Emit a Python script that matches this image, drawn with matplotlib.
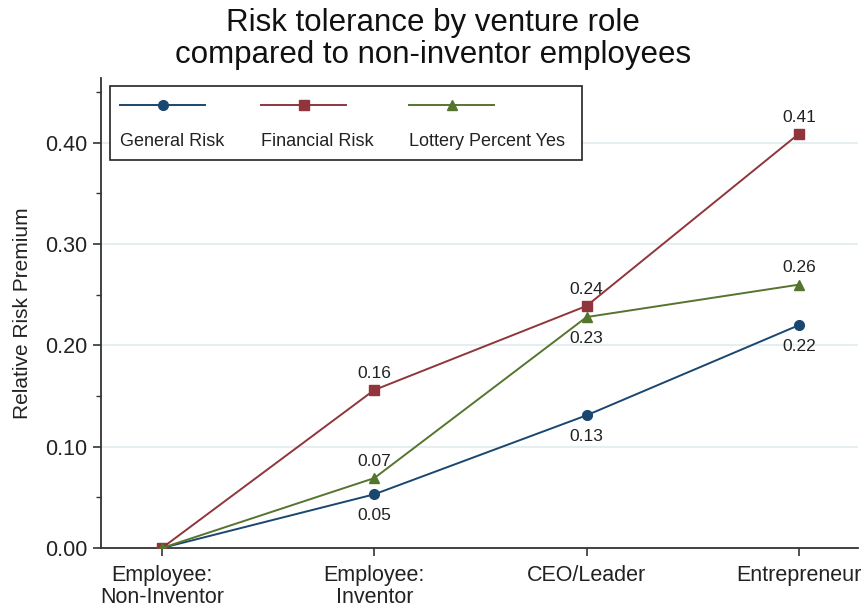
import matplotlib
matplotlib.use("Agg")
import matplotlib.pyplot as plt
from matplotlib.lines import Line2D
from matplotlib.patches import Rectangle
import numpy as np

plt.rcParams['font.family'] = ['Liberation Sans', 'DejaVu Sans']

categories = ["Employee:\nNon-Inventor", "Employee:\nInventor", "CEO/Leader", "Entrepreneur"]
general_risk = [0.0, 0.053, 0.131, 0.220]
financial_risk = [0.0, 0.156, 0.239, 0.409]
lottery_yes = [0.0, 0.069, 0.228, 0.260]
general_labels = ["", "0.05", "0.13", "0.22"]
financial_labels = ["", "0.16", "0.24", "0.41"]
lottery_labels = ["", "0.07", "0.23", "0.26"]
lottery_label_pos = ["", "above", "below", "above"]
yticks = [0.0, 0.1, 0.2, 0.3, 0.4]
ytick_labels = ["0.00", "0.10", "0.20", "0.30", "0.40"]
series_names = ["General Risk", "Financial Risk", "Lottery Percent Yes"]

c_blue = "#1a476f"
c_red = "#90353b"
c_green = "#55752f"

fig = plt.figure(figsize=(8.66, 6.08), dpi=100)
ax = fig.add_axes([101/866, 1-548/608, (858-101)/866, (548-78)/608])

x = np.arange(len(categories))
ax.plot(x, general_risk, color=c_blue, marker="o", ms=7, lw=1.4, zorder=3)
ax.plot(x, financial_risk, color=c_red, marker="s", ms=7, lw=1.4, zorder=3)
ax.plot(x, lottery_yes, color=c_green, marker="^", ms=7.5, lw=1.4, zorder=3)

lab_fs = 12.5
off_up = 12
off_dn = 15.5
for i in range(len(x)):
    if general_labels[i]:
        ax.annotate(general_labels[i], (x[i], general_risk[i]), xytext=(0, -off_dn),
                    textcoords="offset points", ha="center", va="center", fontsize=lab_fs, color="#222222")
    if financial_labels[i]:
        ax.annotate(financial_labels[i], (x[i], financial_risk[i]), xytext=(0, off_up),
                    textcoords="offset points", ha="center", va="center", fontsize=lab_fs, color="#222222")
    if lottery_labels[i]:
        dy = off_up if lottery_label_pos[i] == "above" else -off_dn
        ax.annotate(lottery_labels[i], (x[i], lottery_yes[i]), xytext=(0, dy),
                    textcoords="offset points", ha="center", va="center", fontsize=lab_fs, color="#222222")

ax.set_xlim(-0.287, 3.278)
ax.set_ylim(0, 0.464)
ax.set_xticks(x)
ax.set_xticklabels(categories, fontsize=15.5, color="#222222", linespacing=1.1)
ax.set_yticks(yticks)
ax.set_yticklabels(ytick_labels, fontsize=15.5, color="#222222")
ax.set_yticks([0.05, 0.15, 0.25, 0.35, 0.45], minor=True)
ax.tick_params(axis="both", which="major", length=6, width=1.2, color="#333333", pad=4)
ax.tick_params(axis="x", which="major", pad=6)
ax.tick_params(axis="y", which="minor", length=3.5, width=1.0, color="#333333")
ax.set_ylabel("Relative Risk Premium", fontsize=15, color="#222222", labelpad=9)

for yv in yticks[1:]:
    ax.axhline(yv, color="#e5eef0", lw=1.5, zorder=0)

for s in ["top", "right"]:
    ax.spines[s].set_visible(False)
for s in ["left", "bottom"]:
    ax.spines[s].set_color("#333333")
    ax.spines[s].set_linewidth(1.3)

fig.text(0.5, 1 - 39/608, "Risk tolerance by venture role\ncompared to non-inventor employees",
         fontsize=22.5, ha="center", va="center", linespacing=1.13, color="#111111")

# legend drawn manually: handle above label, three columns
def fx(px):
    return px / 866
def fy(py):
    return 1 - py / 608

fig.patches.append(Rectangle((fx(110), fy(160)), fx(582) - fx(110), fy(86) - fy(160),
                             transform=fig.transFigure, fill=True, facecolor="white",
                             edgecolor="#222222", lw=1.2, zorder=5))
leg_cols = [c_blue, c_red, c_green]
leg_markers = ["o", "s", "^"]
leg_x0 = [120, 261, 409]
for name, col, mk, x0 in zip(series_names, leg_cols, leg_markers, leg_x0):
    fig.add_artist(Line2D([fx(x0), fx(x0 + 85)], [fy(105), fy(105)], color=col, lw=1.4,
                          transform=fig.transFigure, zorder=6))
    fig.add_artist(Line2D([fx(x0 + 42.5)], [fy(105)], color=col, marker=mk, ms=7,
                          transform=fig.transFigure, zorder=7, linestyle="none"))
    fig.text(fx(x0), fy(141), name, fontsize=13, ha="left", va="center", color="#222222", zorder=7)

fig.savefig("out.png", dpi=100, facecolor="white")
